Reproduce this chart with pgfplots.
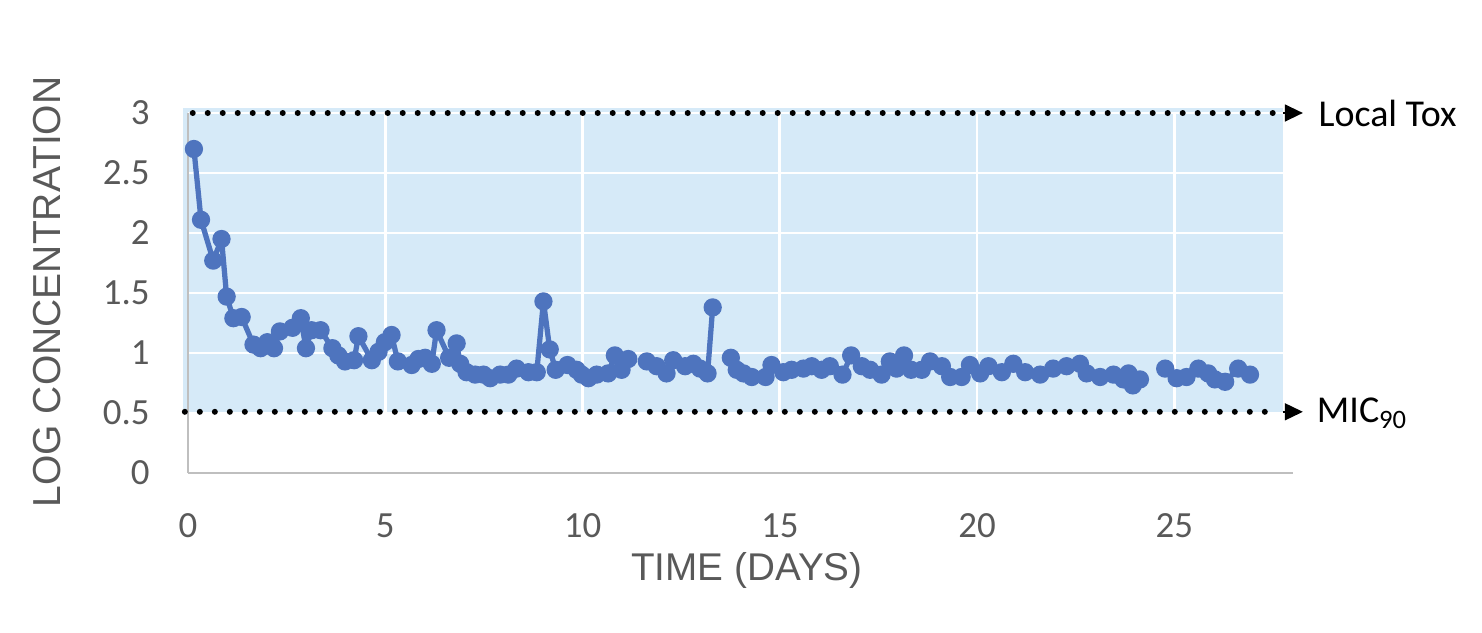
\documentclass[border=0pt]{standalone}
\usepackage{fontspec}
\setmainfont{Carlito}
\newfontfamily\arialfont{Liberation Sans}
\usepackage{pgfplots}
\pgfplotsset{compat=1.18}
\usetikzlibrary{arrows.meta}
\definecolor{datablue}{RGB}{78,116,190}
\definecolor{shadeblue}{RGB}{214,234,248}
\definecolor{axisgray}{RGB}{191,191,191}
\definecolor{txtgray}{RGB}{89,89,89}

\pgfplotstableread{
x y
0.15 2.70
0.33 2.11
0.64 1.77
0.85 1.95
0.98 1.47
1.15 1.29
1.36 1.30
1.66 1.07
1.84 1.04
2.01 1.09
2.18 1.04
2.33 1.18
2.65 1.21
2.86 1.29
2.99 1.04
3.13 1.19
3.36 1.19
3.66 1.04
3.81 0.98
3.98 0.93
4.21 0.94
4.32 1.14
4.66 0.94
4.83 1.01
4.99 1.09
5.16 1.15
5.32 0.93
5.67 0.90
5.84 0.95
6.01 0.96
6.18 0.91
6.30 1.19
6.62 0.96
6.81 1.08
6.90 0.91
7.06 0.84
7.28 0.82
7.49 0.82
7.66 0.79
7.91 0.82
8.12 0.82
8.33 0.87
8.63 0.84
8.84 0.84
9.01 1.43
9.17 1.03
9.32 0.86
9.62 0.90
9.85 0.86
9.98 0.82
10.15 0.79
10.36 0.82
10.65 0.83
10.82 0.98
10.99 0.86
11.16 0.95
nan nan
11.63 0.93
11.88 0.89
12.13 0.83
12.30 0.94
12.60 0.89
12.81 0.91
12.98 0.87
13.17 0.83
13.30 1.38
nan nan
13.76 0.96
13.91 0.86
14.08 0.83
14.29 0.80
14.64 0.80
14.79 0.90
15.09 0.84
15.30 0.86
15.60 0.87
15.81 0.89
16.06 0.86
16.27 0.89
16.59 0.82
16.81 0.98
17.08 0.89
17.29 0.86
17.58 0.82
17.79 0.93
17.96 0.87
18.15 0.98
18.33 0.86
18.60 0.86
18.81 0.93
19.11 0.89
19.32 0.80
19.61 0.80
19.82 0.90
20.08 0.83
20.29 0.89
20.63 0.84
20.92 0.91
21.22 0.84
21.60 0.82
21.93 0.87
22.27 0.89
22.61 0.91
22.78 0.83
23.12 0.80
23.46 0.82
23.71 0.78
23.84 0.83
23.95 0.73
24.13 0.78
nan nan
24.77 0.87
25.06 0.79
25.31 0.80
25.61 0.87
25.86 0.83
26.03 0.78
26.29 0.76
26.62 0.87
26.92 0.82
}\conc

\begin{document}
\begin{tikzpicture}
\begin{axis}[
  at={(0,0)}, anchor=south west,
  scale only axis,
  width=11.046cm, height=3.6cm,
  xmin=0, xmax=28, ymin=0, ymax=3,
  xtick={0,5,...,25},
  ytick={0,0.5,...,3},
  set layers, clip=false,
  unbounded coords=jump,
  grid=major,
  major grid style={draw=white, line width=0.75pt},
  axis x line*=bottom, axis y line*=left,
  axis line style={draw=axisgray, line width=0.8pt, -},
  major tick length=0pt,
  /pgf/number format/assume math mode=true,
  tick label style={font=\fontsize{10.5}{12}\selectfont, text=txtgray},
  yticklabel style={xshift=-0.26cm},
  xticklabel style={yshift=-0.28cm},
  xlabel={TIME (DAYS)},
  ylabel={LOG CONCENTRATION},
  xlabel style={at={(axis description cs:0.506,-0.272)}, anchor=center,
    font=\arialfont\fontsize{11}{12}\selectfont, text=txtgray},
  ylabel style={at={(axis description cs:-0.1277,0.503)}, anchor=center,
    font=\arialfont\fontsize{11.1}{12}\selectfont, text=txtgray},
]
\begin{pgfonlayer}{axis background}
  \fill[shadeblue] (axis cs:-0.13,0.5) rectangle (axis cs:27.76,3.04);
\end{pgfonlayer}

\addplot[color=datablue, line width=1.5pt, line join=round, mark=*, mark size=2.4pt,
  mark options={fill=datablue, draw=datablue, line width=0.4pt}] table[x=x, y=y] {\conc};

% threshold lines
\draw[line width=0.06cm, line cap=round, dash pattern=on 0pt off 0.15cm]
  (axis cs:0.12,3) -- (axis cs:27.6,3);
\draw[line width=0.06cm, line cap=round, dash pattern=on 0pt off 0.15cm]
  (axis cs:-0.08,0.51) -- (axis cs:27.6,0.51);
\draw[line width=0.4pt, -{Triangle[length=0.18cm, width=0.17cm]}]
  (axis cs:27.75,3) -- (axis cs:28.26,3);
\draw[line width=0.4pt, -{Triangle[length=0.18cm, width=0.17cm]}]
  (axis cs:27.75,0.51) -- (axis cs:28.26,0.51);
\node[anchor=west, inner sep=0pt, font=\fontsize{10.8}{12}\selectfont]
  at (axis cs:28.64,3) {Local Tox};
\node[anchor=west, inner sep=0pt, font=\fontsize{10.8}{12}\selectfont]
  at (axis cs:28.6,0.5) {MIC\textsubscript{90}};
\end{axis}
\pgfresetboundingbox
\useasboundingbox (-1.88cm,-1.59cm) rectangle (12.94cm,4.73cm);
\end{tikzpicture}
\end{document}
